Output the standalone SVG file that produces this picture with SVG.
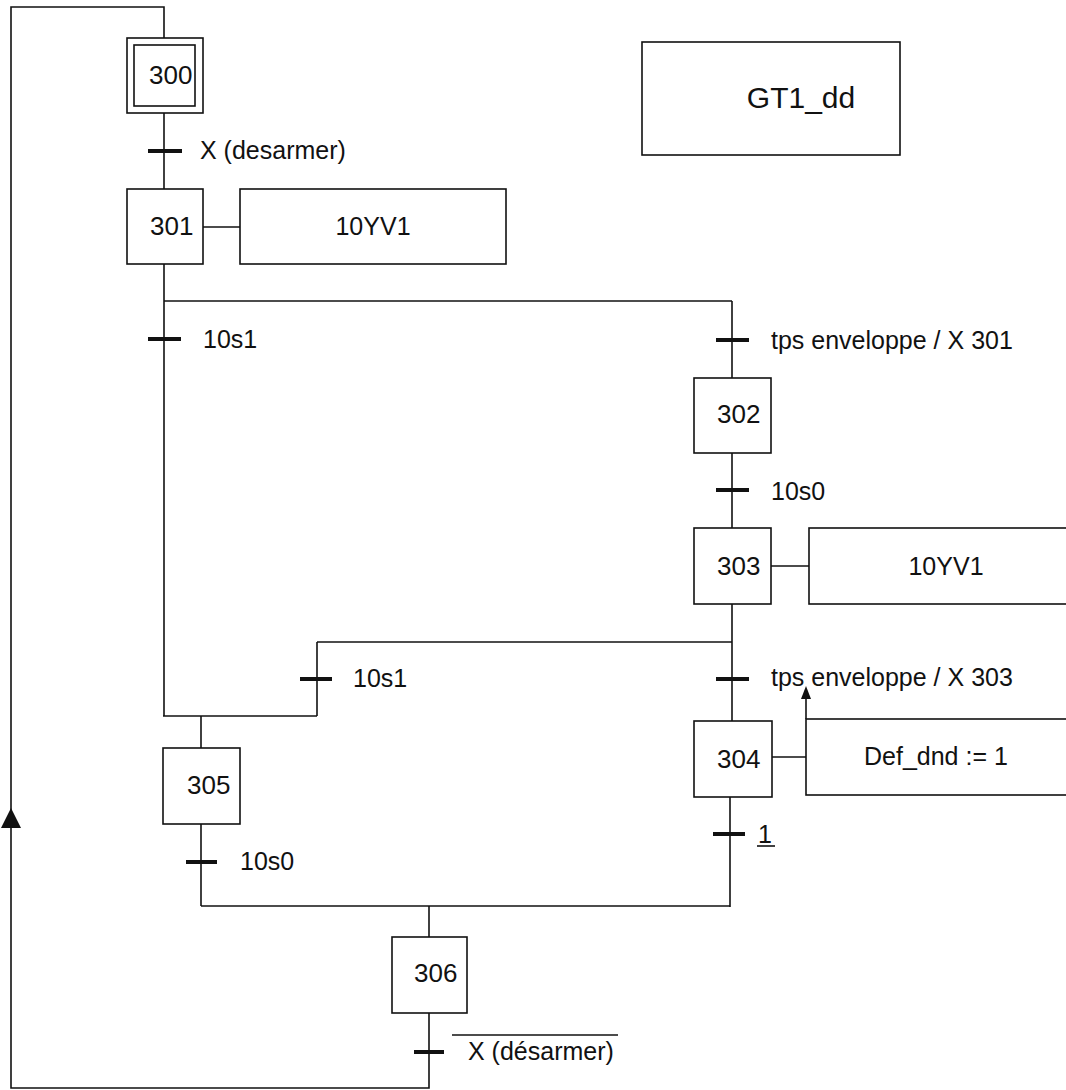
<svg xmlns="http://www.w3.org/2000/svg" width="1066" height="1090" viewBox="0 0 1066 1090">
<style>
  .ln{fill:none;stroke:#111;stroke-width:1.6}
  .box{fill:#fff;stroke:#111;stroke-width:1.6}
  .bar{stroke:#111;stroke-width:4}
  .t{font-family:"Liberation Sans",Arial,sans-serif;font-size:25px;fill:#111}
  .n{font-family:"Liberation Sans",Arial,sans-serif;font-size:26px;fill:#111}
  .c{text-anchor:middle}
</style>
<rect width="1066" height="1090" fill="#fff"/>
<g id="connectors">
  <!-- loop back -->
  <polyline class="ln" points="429,1013 429,1088 11,1088 11,7 164,7 164,38"/>
  <polygon points="11,808 1,828 21,828" fill="#111"/>
  <!-- 300 -> 301 -->
  <line class="ln" x1="164" y1="113" x2="164" y2="189"/>
  <line class="bar" x1="148" y1="151" x2="182" y2="151"/>
  <text class="t" x="200" y="159">X (desarmer)</text>
  <!-- 301 action link -->
  <line class="ln" x1="203" y1="227" x2="240" y2="227"/>
  <!-- divergence -->
  <line class="ln" x1="164" y1="264" x2="164" y2="716"/>
  <line class="ln" x1="164" y1="301" x2="732" y2="301"/>
  <line class="bar" x1="148" y1="339" x2="181" y2="339"/>
  <text class="t" x="203" y="348">10s1</text>
  <line class="ln" x1="732" y1="301" x2="732" y2="378"/>
  <line class="bar" x1="716" y1="340" x2="749" y2="340"/>
  <text class="t" x="771" y="349">tps enveloppe / X 301</text>
  <!-- 302 -> 303 -->
  <line class="ln" x1="732" y1="453" x2="732" y2="528"/>
  <line class="bar" x1="716" y1="490" x2="749" y2="490"/>
  <text class="t" x="771" y="500">10s0</text>
  <line class="ln" x1="771" y1="566" x2="809" y2="566"/>
  <!-- 303 divergence -->
  <line class="ln" x1="732" y1="604" x2="732" y2="721"/>
  <line class="ln" x1="317" y1="642" x2="732" y2="642"/>
  <line class="bar" x1="716" y1="679" x2="749" y2="679"/>
  <text class="t" x="771" y="686">tps enveloppe /  X 303</text>
  <line class="ln" x1="317" y1="642" x2="317" y2="716"/>
  <line class="bar" x1="300" y1="679" x2="332" y2="679"/>
  <text class="t" x="353" y="687">10s1</text>
  <line class="ln" x1="163" y1="716" x2="317" y2="716"/>
  <line class="ln" x1="201" y1="716" x2="201" y2="748"/>
  <!-- 304 action -->
  <line class="ln" x1="772" y1="757" x2="806" y2="757"/>
  <line class="ln" x1="806" y1="698" x2="806" y2="719"/>
  <polygon points="806,686 801,699 811,699" fill="#111"/>
  <!-- 304 -> converge -->
  <line class="ln" x1="730" y1="797" x2="730" y2="907"/>
  <line class="bar" x1="713" y1="834" x2="745" y2="834"/>
  <text class="t" x="758" y="843">1</text>
  <line class="ln" x1="757" y1="846" x2="775" y2="846"/>
  <!-- 305 -> converge -->
  <line class="ln" x1="201" y1="824" x2="201" y2="906"/>
  <line class="bar" x1="186" y1="862" x2="217" y2="862"/>
  <text class="t" x="240" y="870">10s0</text>
  <line class="ln" x1="201" y1="906" x2="730" y2="906"/>
  <line class="ln" x1="429" y1="906" x2="429" y2="937"/>
  <!-- 306 transition -->
  <line class="bar" x1="414" y1="1052" x2="444" y2="1052"/>
  <line class="ln" x1="452" y1="1035" x2="618" y2="1035"/>
  <text class="t" x="468" y="1060">X (désarmer)</text>
</g>
<g id="title">
  <rect class="box" x="642" y="42" width="258" height="113"/>
  <text class="t c" x="801" y="108" style="font-size:30px">GT1_dd</text>
</g>
<g id="step300">
  <rect class="box" x="127" y="38" width="76" height="75"/>
  <rect class="box" x="134" y="45" width="61" height="61"/>
  <text class="n" x="149" y="84">300</text>
</g>
<g id="step301">
  <rect class="box" x="127" y="189" width="76" height="75"/>
  <text class="n" x="150" y="235">301</text>
</g>
<g id="action301">
  <rect class="box" x="240" y="189" width="266" height="75"/>
  <text class="t c" x="373" y="235">10YV1</text>
</g>
<g id="step302">
  <rect class="box" x="694" y="378" width="77" height="75"/>
  <text class="n" x="717" y="423">302</text>
</g>
<g id="step303">
  <rect class="box" x="694" y="528" width="77" height="76"/>
  <text class="n" x="717" y="575">303</text>
</g>
<g id="action303">
  <rect class="box" x="809" y="528" width="280" height="76"/>
  <text class="t c" x="946" y="575">10YV1</text>
</g>
<g id="step304">
  <rect class="box" x="694" y="721" width="78" height="76"/>
  <text class="n" x="717" y="768">304</text>
</g>
<g id="action304">
  <rect class="box" x="806" y="719" width="280" height="76"/>
  <text class="t" x="864" y="765">Def_dnd := 1</text>
</g>
<g id="step305">
  <rect class="box" x="163" y="748" width="77" height="76"/>
  <text class="n" x="187" y="794">305</text>
</g>
<g id="step306">
  <rect class="box" x="392" y="937" width="75" height="76"/>
  <text class="n" x="414" y="982">306</text>
</g>
</svg>
